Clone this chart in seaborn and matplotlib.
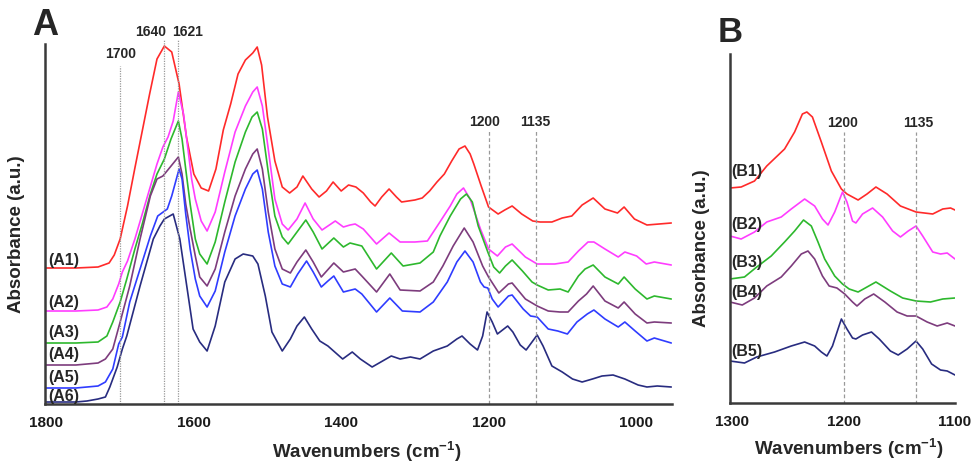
import matplotlib
matplotlib.use("Agg")
import matplotlib.pyplot as plt
import seaborn as sns
import numpy as np
import pandas as pd

# ---- panel A spectra (wavenumber, absorbance a.u.) ----
a1_wn = [1800, 1760, 1730, 1715, 1708, 1700, 1690, 1680, 1670, 1660, 1650, 1640, 1630, 1620, 1610, 1600,
         1590, 1580, 1570, 1560, 1550, 1540, 1530, 1520, 1514, 1508, 1500, 1490, 1480, 1470, 1460, 1452,
         1440, 1430, 1420, 1411, 1400, 1390, 1380, 1370, 1360, 1354, 1345, 1335, 1325, 1318, 1300, 1290,
         1280, 1270, 1260, 1250, 1240, 1232, 1225, 1220, 1210, 1200, 1187, 1178, 1168, 1155, 1140, 1130,
         1114, 1100, 1087, 1073, 1058, 1042, 1025, 1016, 1002, 985, 952]
a1_abs = [1.36, 1.36, 1.37, 1.41, 1.49, 1.65, 1.98, 2.36, 2.73, 3.10, 3.45, 3.58, 3.52, 3.20, 2.67, 2.30,
          2.16, 2.13, 2.35, 2.74, 3.00, 3.30, 3.44, 3.51, 3.57, 3.39, 2.87, 2.43, 2.17, 2.11, 2.17, 2.28,
          2.15, 2.07, 2.13, 2.22, 2.13, 2.19, 2.17, 2.11, 2.02, 1.98, 2.07, 2.15, 2.07, 2.02, 2.04, 2.06,
          2.13, 2.22, 2.30, 2.43, 2.55, 2.58, 2.50, 2.40, 2.18, 1.97, 1.90, 1.94, 1.98, 1.90, 1.83, 1.82,
          1.82, 1.86, 1.88, 1.99, 2.06, 1.95, 1.91, 1.97, 1.85, 1.79, 1.81]

a2_wn = [1800, 1760, 1730, 1718, 1710, 1702, 1697, 1690, 1680, 1670, 1660, 1650, 1642, 1635, 1628, 1621,
         1614, 1608, 1603, 1598, 1590, 1582, 1571, 1558, 1544, 1530, 1520, 1514, 1507, 1499, 1490, 1480,
         1472, 1460, 1449, 1438, 1426, 1408, 1397, 1388, 1381, 1370, 1352, 1335, 1320, 1300, 1283, 1266,
         1252, 1243, 1234, 1225, 1211, 1200, 1188, 1177, 1168, 1150, 1134, 1110, 1092, 1078, 1065, 1057,
         1042, 1024, 1015, 999, 986, 975, 952]
a2_abs = [0.93, 0.93, 0.94, 0.97, 1.05, 1.20, 1.32, 1.43, 1.65, 1.90, 2.15, 2.40, 2.57, 2.67, 2.83, 3.12,
          2.90, 2.55, 2.25, 2.05, 1.83, 1.73, 1.92, 2.32, 2.72, 2.98, 3.12, 3.17, 2.98, 2.55, 2.05, 1.80,
          1.74, 1.85, 2.01, 1.85, 1.74, 1.83, 1.77, 1.79, 1.80, 1.75, 1.60, 1.71, 1.62, 1.62, 1.63, 1.82,
          1.98, 2.10, 2.16, 2.05, 1.75, 1.55, 1.48, 1.57, 1.60, 1.47, 1.40, 1.40, 1.42, 1.53, 1.62, 1.62,
          1.55, 1.47, 1.52, 1.48, 1.40, 1.42, 1.39]

a3_wn = [1800, 1760, 1730, 1718, 1710, 1700, 1691, 1680, 1670, 1659, 1650, 1640, 1631, 1621, 1616, 1611,
         1605, 1598, 1592, 1582, 1571, 1558, 1544, 1530, 1521, 1514, 1507, 1499, 1490, 1480, 1472, 1460,
         1448, 1438, 1426, 1410, 1397, 1388, 1372, 1352, 1332, 1316, 1293, 1275, 1266, 1252, 1238, 1230,
         1222, 1214, 1201, 1193, 1185, 1177, 1168, 1154, 1141, 1134, 1119, 1103, 1092, 1078, 1069, 1058,
         1042, 1024, 1016, 1001, 985, 975, 952]
a3_abs = [0.61, 0.61, 0.62, 0.68, 0.82, 1.02, 1.25, 1.55, 1.80, 2.10, 2.30, 2.45, 2.65, 2.83, 2.65, 2.35,
          2.00, 1.65, 1.50, 1.40, 1.62, 2.02, 2.42, 2.72, 2.87, 2.92, 2.75, 2.32, 1.88, 1.67, 1.60, 1.72,
          1.84, 1.72, 1.55, 1.66, 1.57, 1.61, 1.58, 1.35, 1.51, 1.38, 1.41, 1.52, 1.68, 1.88, 2.05, 2.10,
          2.02, 1.78, 1.52, 1.37, 1.31, 1.38, 1.44, 1.33, 1.22, 1.19, 1.14, 1.15, 1.12, 1.28, 1.35, 1.39,
          1.27, 1.20, 1.27, 1.15, 1.05, 1.08, 1.05]

a4_wn = [1800, 1760, 1730, 1720, 1710, 1700, 1687, 1673, 1659, 1650, 1642, 1632, 1621, 1616, 1611, 1605,
         1598, 1592, 1582, 1571, 1558, 1544, 1530, 1520, 1514, 1507, 1499, 1490, 1480, 1469, 1460, 1448,
         1438, 1427, 1410, 1397, 1381, 1372, 1352, 1334, 1320, 1293, 1275, 1262, 1248, 1233, 1221, 1208,
         1200, 1186, 1173, 1168, 1150, 1134, 1119, 1103, 1092, 1078, 1067, 1058, 1042, 1024, 1016, 1001,
         985, 975, 952]
a4_abs = [0.39, 0.39, 0.41, 0.45, 0.55, 0.82, 1.18, 1.65, 2.08, 2.25, 2.28, 2.37, 2.47, 2.30, 2.00, 1.75,
          1.48, 1.27, 1.18, 1.35, 1.72, 2.08, 2.35, 2.50, 2.55, 2.35, 1.92, 1.55, 1.35, 1.31, 1.42, 1.54,
          1.42, 1.27, 1.41, 1.32, 1.35, 1.28, 1.12, 1.30, 1.14, 1.13, 1.22, 1.38, 1.58, 1.76, 1.62, 1.38,
          1.27, 1.11, 1.20, 1.21, 1.05, 0.98, 0.93, 0.92, 0.92, 1.03, 1.10, 1.18, 1.03, 0.96, 1.02, 0.90,
          0.81, 0.82, 0.81]

a5_wn = [1800, 1760, 1730, 1720, 1710, 1702, 1697, 1687, 1673, 1659, 1649, 1636, 1630, 1620, 1616, 1611,
         1605, 1598, 1592, 1582, 1571, 1558, 1544, 1530, 1520, 1514, 1507, 1499, 1490, 1480, 1469, 1459,
         1447, 1438, 1427, 1418, 1410, 1397, 1381, 1372, 1352, 1334, 1317, 1293, 1275, 1256, 1243, 1232,
         1221, 1211, 1206, 1201, 1195, 1187, 1173, 1168, 1153, 1143, 1134, 1119, 1106, 1093, 1080, 1066,
         1057, 1042, 1024, 1015, 1001, 985, 975, 952]
a5_abs = [0.16, 0.16, 0.18, 0.22, 0.35, 0.60, 0.67, 1.02, 1.35, 1.68, 1.88, 1.95, 2.08, 2.35, 2.25, 1.90,
          1.55, 1.25, 1.08, 0.97, 1.13, 1.52, 1.88, 2.15, 2.30, 2.34, 2.15, 1.72, 1.38, 1.20, 1.17, 1.30,
          1.43, 1.32, 1.17, 1.23, 1.28, 1.12, 1.15, 1.10, 0.92, 1.06, 0.93, 0.92, 1.02, 1.22, 1.42, 1.53,
          1.42, 1.22, 1.17, 1.16, 1.05, 0.97, 1.08, 1.09, 0.95, 0.88, 0.87, 0.75, 0.73, 0.70, 0.82, 0.90,
          0.94, 0.85, 0.77, 0.82, 0.73, 0.63, 0.66, 0.61]

a6_wn = [1800, 1760, 1745, 1730, 1720, 1714, 1704, 1697, 1691, 1673, 1655, 1646, 1640, 1628, 1619, 1609,
         1601, 1592, 1582, 1571, 1558, 1544, 1533, 1520, 1513, 1503, 1494, 1480, 1469, 1460, 1450, 1440,
         1429, 1418, 1398, 1385, 1374, 1358, 1332, 1320, 1306, 1293, 1275, 1256, 1243, 1236, 1225, 1215,
         1208, 1202, 1195, 1188, 1174, 1167, 1157, 1149, 1141, 1134, 1126, 1114, 1100, 1086, 1073, 1059,
         1046, 1031, 1015, 997, 985, 971, 952]
a6_abs = [0.02, 0.02, 0.03, 0.05, 0.07, 0.17, 0.37, 0.55, 0.68, 1.18, 1.65, 1.78, 1.85, 1.90, 1.65, 1.15,
          0.75, 0.62, 0.53, 0.78, 1.22, 1.45, 1.50, 1.48, 1.40, 1.08, 0.72, 0.53, 0.65, 0.78, 0.87, 0.75,
          0.63, 0.58, 0.45, 0.52, 0.45, 0.37, 0.48, 0.45, 0.47, 0.45, 0.53, 0.58, 0.65, 0.68, 0.60, 0.54,
          0.68, 0.92, 0.82, 0.70, 0.78, 0.72, 0.59, 0.54, 0.62, 0.69, 0.58, 0.38, 0.32, 0.25, 0.22, 0.25,
          0.28, 0.29, 0.25, 0.19, 0.17, 0.18, 0.17]

# ---- panel B spectra ----
b1_wn = [1302, 1292, 1280, 1269, 1253, 1244, 1237, 1233, 1228, 1220, 1211, 1202, 1197, 1187, 1179, 1171,
         1161, 1149, 1135, 1120, 1111, 1104, 1100]
b1_abs = [2.16, 2.17, 2.23, 2.38, 2.55, 2.72, 2.90, 2.92, 2.87, 2.62, 2.33, 2.15, 2.10, 2.04, 2.10, 2.17,
          2.10, 1.98, 1.92, 1.90, 1.95, 1.96, 1.94]

b2_wn = [1302, 1292, 1280, 1269, 1256, 1247, 1235, 1226, 1219, 1214, 1208, 1201, 1197, 1192, 1189, 1183,
         1174, 1165, 1156, 1149, 1142, 1135, 1129, 1120, 1113, 1107, 1100]
b2_abs = [1.68, 1.65, 1.72, 1.82, 1.87, 1.95, 2.05, 1.98, 1.85, 1.79, 1.92, 2.12, 2.02, 1.83, 1.81, 1.90,
          1.96, 1.87, 1.73, 1.67, 1.73, 1.78, 1.68, 1.52, 1.50, 1.51, 1.45]

b3_wn = [1302, 1289, 1278, 1265, 1253, 1244, 1236, 1229, 1223, 1217, 1208, 1201, 1195, 1187, 1179, 1171,
         1158, 1147, 1135, 1122, 1111, 1100]
b3_abs = [1.25, 1.27, 1.37, 1.48, 1.62, 1.73, 1.84, 1.78, 1.62, 1.45, 1.28, 1.20, 1.15, 1.12, 1.17, 1.22,
          1.13, 1.06, 1.03, 1.02, 1.05, 1.06]

b4_wn = [1302, 1291, 1280, 1269, 1256, 1247, 1238, 1232, 1226, 1219, 1213, 1206, 1199, 1192, 1188, 1181,
         1173, 1163, 1152, 1143, 1135, 1125, 1116, 1107, 1100]
b4_abs = [1.02, 0.99, 1.06, 1.18, 1.27, 1.38, 1.50, 1.53, 1.45, 1.28, 1.18, 1.16, 1.10, 1.02, 0.98, 1.05,
          1.10, 1.02, 0.92, 0.88, 0.88, 0.82, 0.78, 0.81, 0.78]

b5_wn = [1302, 1289, 1278, 1262, 1247, 1235, 1226, 1220, 1215, 1210, 1205, 1202, 1197, 1192, 1189, 1183,
         1175, 1168, 1158, 1151, 1143, 1135, 1129, 1121, 1113, 1107, 1100]
b5_abs = [0.43, 0.41, 0.47, 0.52, 0.58, 0.62, 0.58, 0.52, 0.48, 0.58, 0.75, 0.85, 0.75, 0.66, 0.65, 0.69,
          0.72, 0.65, 0.53, 0.49, 0.55, 0.63, 0.55, 0.40, 0.34, 0.33, 0.29]

labels_a = ["(A1)", "(A2)", "(A3)", "(A4)", "(A5)", "(A6)"]
labels_b = ["(B1)", "(B2)", "(B3)", "(B4)", "(B5)"]
label_a_y = [1.44, 1.03, 0.72, 0.50, 0.27, 0.08]
label_b_y = [2.34, 1.80, 1.43, 1.13, 0.53]
marks_a = [1700, 1640, 1621]
marks_ab = [1200, 1135]

colors_a = ["#ff2a2a", "#ff3dff", "#2db82d", "#7d3c7d", "#2f3cff", "#282c80"]
colors_b = ["#ff2a2a", "#ff3dff", "#2db82d", "#7d3c7d", "#282c80"]

sns.set_style("white")
plt.rcParams["font.family"] = ["Liberation Sans", "DejaVu Sans"]
plt.rcParams["font.weight"] = "bold"
plt.rcParams["mathtext.fontset"] = "custom"
plt.rcParams["mathtext.rm"] = "Liberation Sans:bold"
plt.rcParams["mathtext.it"] = "Liberation Sans:bold"
plt.rcParams["mathtext.bf"] = "Liberation Sans:bold"


def make_frame(wns, absv, names):
    parts = []
    for w, a, n in zip(wns, absv, names):
        parts.append(pd.DataFrame({"wn": w, "abs": a, "sample": n}))
    return pd.concat(parts, ignore_index=True)


df_a = make_frame([a1_wn, a2_wn, a3_wn, a4_wn, a5_wn, a6_wn],
                  [a1_abs, a2_abs, a3_abs, a4_abs, a5_abs, a6_abs], labels_a)
df_b = make_frame([b1_wn, b2_wn, b3_wn, b4_wn, b5_wn],
                  [b1_abs, b2_abs, b3_abs, b4_abs, b5_abs], labels_b)

fig = plt.figure(figsize=(9.71, 4.64), dpi=100)
ax_a = fig.add_axes([45 / 971, 59 / 464, 627 / 971, 360 / 464])
ax_b = fig.add_axes([730 / 971, 60 / 464, 225 / 971, 349 / 464])

sns.lineplot(data=df_a, x="wn", y="abs", hue="sample", palette=colors_a, sort=False,
             estimator=None, legend=False, linewidth=1.2, ax=ax_a)
sns.lineplot(data=df_b, x="wn", y="abs", hue="sample", palette=colors_b, sort=False,
             estimator=None, legend=False, linewidth=1.2, ax=ax_b)
for ax in (ax_a, ax_b):
    for ln in ax.get_lines():
        ln.set_solid_joinstyle("round")

# reference lines
ax_a.vlines(marks_a[0], 0, 3.38, colors="#999999", linestyles=(0, (1, 1)), linewidth=0.9, clip_on=False)
ax_a.vlines(marks_a[1:], 0, 3.65, colors="#999999", linestyles=(0, (1, 1)), linewidth=0.9, clip_on=False)
ax_a.vlines(marks_ab, 0, 2.73, colors="#999999", linestyles=(0, (3, 2)), linewidth=0.9)
ax_b.vlines(marks_ab, 0, 2.72, colors="#999999", linestyles=(0, (3, 2)), linewidth=0.9)

ax_a.text(1700, 3.51, "1700", ha="center", va="center", fontsize=10, fontweight="bold")
ax_a.text(1659, 3.73, "1640", ha="center", va="center", fontsize=10, fontweight="bold", clip_on=False)
ax_a.text(1609, 3.73, "1621", ha="center", va="center", fontsize=10, fontweight="bold", clip_on=False)
ax_a.text(1205, 2.83, "1200", ha="center", va="center", fontsize=10, fontweight="bold")
ax_a.text(1137, 2.83, "1135", ha="center", va="center", fontsize=10, fontweight="bold")
ax_b.text(1201, 2.82, "1200", ha="center", va="center", fontsize=10, fontweight="bold")
ax_b.text(1133, 2.82, "1135", ha="center", va="center", fontsize=10, fontweight="bold")

for lab, yy in zip(labels_a, label_a_y):
    ax_a.text(1798, yy, lab, ha="left", va="center", fontsize=11.5, fontweight="bold")
for lab, yy in zip(labels_b, label_b_y):
    ax_b.text(1301, yy, lab, ha="left", va="center", fontsize=11.5, fontweight="bold")

ax_a.set_xlim(1802, 951)
ax_a.set_ylim(0, 3.60)
ax_a.set_xticks([1800, 1600, 1400, 1200, 1000])
ax_a.set_yticks(np.arange(0.50, 3.3, 0.663))
ax_a.set_yticklabels([])

ax_b.set_xlim(1302, 1100)
ax_b.set_ylim(0.01, 3.50)
ax_b.set_xticks([1300, 1200, 1100])
ax_b.set_yticks([])

for ax in (ax_a, ax_b):
    for side in ("top", "right"):
        ax.spines[side].set_visible(False)
    for side in ("left", "bottom"):
        ax.spines[side].set_color("#3a3a3a")
        ax.spines[side].set_linewidth(1.8)
    ax.tick_params(axis="both", direction="out", length=3, width=0.8, color="#888888",
                   labelsize=11, pad=5, labelcolor="#1a1a1a")
    for t in ax.get_xticklabels():
        t.set_fontweight("bold")
    ax.set_xlabel("Wavenumbers (cm$^{-1}$)", fontsize=13.5, fontweight="bold")
    ax.set_ylabel("Absorbance (a.u.)", fontsize=13.5, fontweight="bold")

ax_a.xaxis.set_label_coords(0.514, -0.098)
ax_a.yaxis.set_label_coords(-0.032, 0.475)
ax_b.xaxis.set_label_coords(0.529, -0.094)
ax_b.yaxis.set_label_coords(-0.089, 0.447)

fig.text(32 / 971, 1 - 35 / 464, "A", fontsize=26, fontweight="bold", ha="left", va="baseline")
fig.text(718 / 971, 1 - 42 / 464, "B", fontsize=25, fontweight="bold", ha="left", va="baseline")

fig.savefig("out.png", dpi=100, facecolor="white")
